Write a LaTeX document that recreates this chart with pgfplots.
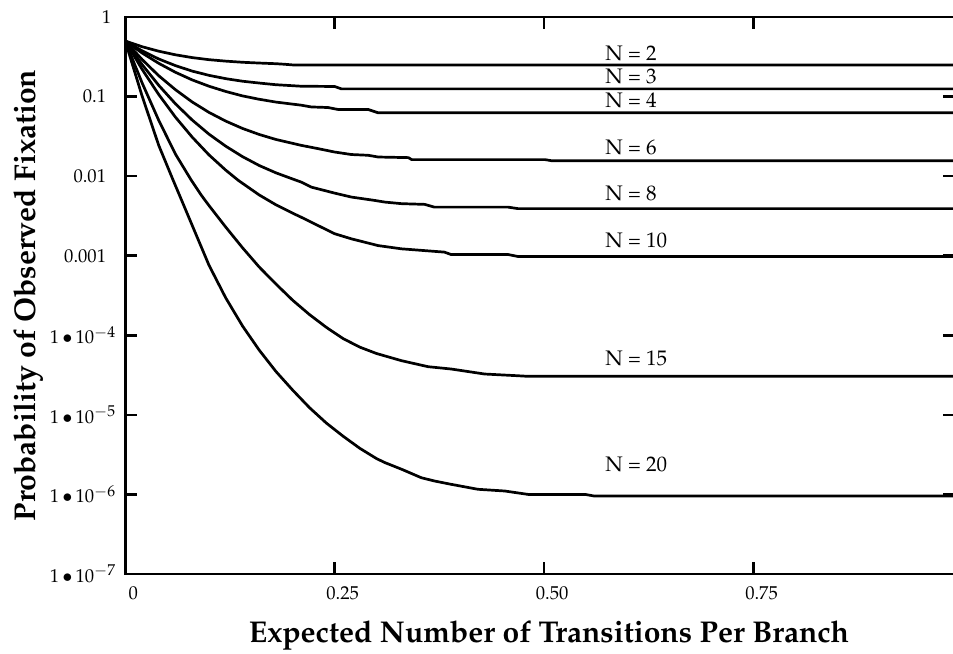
\documentclass[border=0pt]{standalone}
\usepackage[T1]{fontenc}
\usepackage{mathpazo}
\usepackage{pgfplots}
\pgfplotsset{compat=1.18}
\usetikzlibrary{calc}

\newcommand{\expo}[1]{$1{\,\bullet\,}10^{\mbox{\fontsize{7.8}{8}\selectfont$-#1$}}$\hspace*{-5pt}}

\begin{document}
\begin{tikzpicture}
\begin{axis}[
    name=ax,
    scale only axis,
    width=414pt, height=278pt,
    xmin=0, xmax=0.99,
    ymode=log, ymin=1e-7, ymax=1,
    axis line style={line width=1.4pt},
    tick style={line width=1.3pt, black},
    major tick length=6pt,
    tick align=inside,
    xminorticks=false, yminorticks=false,
    xtick={0,0.25,0.5,0.75},
    xticklabels={0,0.25,0.50,0.75},
    ytick={1e-7,1e-6,1e-5,1e-4,1e-3,1e-2,1e-1,1},
    yticklabels={\expo{7},\expo{6},\expo{5},\expo{4},
        $0.001$, $0.01$, $0.1$,
        \raisebox{-2.5pt}{$1$}\hspace*{-2.5pt}},
    ticklabel style={font=\fontsize{9.3}{11}\selectfont},
    xticklabel style={xshift=4pt, yshift=-3pt},
    yticklabel style={xshift=-6pt},
    xlabel={Expected Number of Transitions Per Branch},
    ylabel={Probability of Observed Fixation},
    label style={font=\bfseries\fontsize{15}{18}\selectfont},
    xlabel style={at={(axis description cs:0.511,-0.1223)}, anchor=base},
    ylabel style={at={(axis description cs:-0.117,0.5)}, anchor=center},
    curve/.style={black, solid, mark=none, line width=1.35pt, line join=round},
    ]

    % N = 2
    \addplot[curve] coordinates {(0,0.5) (0.02,0.424) (0.04,0.372) (0.06,0.335) (0.08,0.309)
        (0.10,0.291) (0.12,0.279) (0.14,0.270) (0.16,0.264) (0.18,0.259) (0.19,0.255)
        (0.20,0.25) (0.99,0.25)};
    % N = 3
    \addplot[curve] coordinates {(0,0.5) (0.02,0.377) (0.04,0.297) (0.06,0.245) (0.08,0.209)
        (0.10,0.185) (0.12,0.168) (0.14,0.156) (0.16,0.148) (0.18,0.141) (0.21,0.135)
        (0.25,0.134) (0.258,0.125) (0.99,0.125)};
    % N = 4
    \addplot[curve] coordinates {(0,0.5) (0.02,0.354) (0.04,0.262) (0.06,0.202) (0.08,0.162)
        (0.10,0.135) (0.12,0.116) (0.14,0.102) (0.16,0.0925) (0.18,0.0853) (0.21,0.078)
        (0.222,0.0741) (0.242,0.0729) (0.254,0.0689) (0.29,0.0689) (0.302,0.0625)
        (0.99,0.0625)};
    % N = 6
    \addplot[curve] coordinates {(0,0.5) (0.02,0.2935) (0.04,0.183) (0.06,0.122) (0.08,0.0855)
        (0.10,0.0633) (0.12,0.0492) (0.14,0.0398) (0.16,0.0334) (0.18,0.0289) (0.21,0.0244)
        (0.23,0.0222) (0.25,0.0201) (0.27,0.0187) (0.29,0.0183) (0.302,0.0174)
        (0.338,0.0171) (0.342,0.01614) (0.501,0.01614) (0.509,0.015625) (0.99,0.015625)};
    % N = 8
    \addplot[curve] coordinates {(0,0.5) (0.02,0.254) (0.04,0.1386) (0.06,0.0811) (0.08,0.0507)
        (0.10,0.0337) (0.12,0.0238) (0.14,0.0176) (0.16,0.0136) (0.18,0.0110) (0.20,0.0092)
        (0.21,0.00843) (0.222,0.00729) (0.25,0.00612) (0.27,0.00546) (0.298,0.00495)
        (0.31,0.00472) (0.33,0.00451) (0.3575,0.00442) (0.369,0.00408) (0.457,0.00408)
        (0.469,0.00390625) (0.99,0.00390625)};
    % N = 10
    \addplot[curve] coordinates {(0,0.5) (0.02,0.2215) (0.04,0.1063) (0.06,0.0551) (0.08,0.0309)
        (0.10,0.0185) (0.12,0.0119) (0.135,0.00885) (0.16,0.0058) (0.18,0.00436)
        (0.20,0.00342) (0.21,0.00305) (0.23,0.00240) (0.25,0.00189) (0.27,0.00163)
        (0.302,0.00134) (0.33,0.00122) (0.381,0.00111) (0.389,0.001035) (0.457,0.001035)
        (0.469,0.0009766) (0.99,0.0009766)};
    % N = 15
    \addplot[curve] coordinates {(0,0.5) (0.02,0.150) (0.04,0.0504) (0.06,0.0189) (0.079,0.00885)
        (0.091,0.00573) (0.10,0.00427) (0.12,0.00229) (0.14,0.00126) (0.16,0.00072)
        (0.18,0.00044) (0.20,0.000275) (0.22,0.000182) (0.24,0.000126) (0.26,9.1e-5)
        (0.28,7.1e-5) (0.30,5.9e-5) (0.33,4.79e-5) (0.3615,4.03e-5) (0.389,3.77e-5)
        (0.429,3.26e-5) (0.469,3.10e-5) (0.48,3.052e-5) (0.99,3.052e-5)};
    % N = 20
    \addplot[curve] coordinates {(0,0.5) (0.02,0.103) (0.04,0.0244) (0.0573,0.00885)
        (0.0649,0.00573) (0.08,0.0024) (0.10,7.6e-4) (0.12,2.95e-4) (0.14,1.31e-4)
        (0.16,6.5e-5) (0.18,3.5e-5) (0.20,2.04e-5) (0.22,1.23e-5) (0.24,7.9e-6)
        (0.26,5.4e-6) (0.28,3.8e-6) (0.30,2.82e-6) (0.31,2.51e-6) (0.33,2.07e-6)
        (0.3535,1.62e-6) (0.369,1.476e-6) (0.389,1.34e-6) (0.421,1.16e-6) (0.453,1.104e-6)
        (0.481,1.0e-6) (0.549,1.0e-6) (0.56,9.537e-7) (0.99,9.537e-7)};

    \begin{scope}[every node/.style={anchor=base west, inner sep=0pt,
        font=\fontsize{10.5}{12}\selectfont}]
        \node at (axis cs:0.5727,0.287) {N = 2};
        \node at (axis cs:0.5727,0.1475) {N = 3};
        \node at (axis cs:0.5727,0.0735) {N = 4};
        \node at (axis cs:0.5727,0.01882) {N = 6};
        \node at (axis cs:0.5727,0.004957) {N = 8};
        \node at (axis cs:0.5727,0.001269) {N = 10};
        \node at (axis cs:0.5727,4.14e-5) {N = 15};
        \node at (axis cs:0.5727,1.967e-6) {N = 20};
    \end{scope}
\end{axis}
\pgfresetboundingbox
\path[use as bounding box] ($(ax.south west)+(-62.5pt,-39.5pt)$) rectangle ($(ax.north east)+(-0.8pt,8.5pt)$);
\end{tikzpicture}
\end{document}
